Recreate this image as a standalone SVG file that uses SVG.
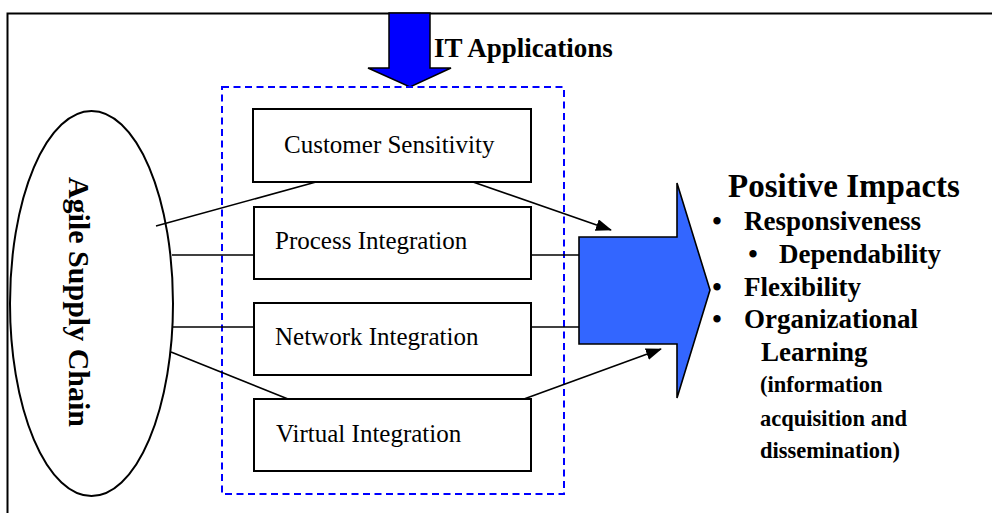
<svg xmlns="http://www.w3.org/2000/svg" width="992" height="513" viewBox="0 0 992 513">
<defs>
<marker id="ah" markerWidth="16" markerHeight="12" refX="15" refY="6" orient="auto" markerUnits="userSpaceOnUse">
<path d="M0,0 L16,6 L0,12 z" fill="#000"/>
</marker>
<style>
.box{fill:#fff;stroke:#000;stroke-width:2}
.lbl{font-family:"Liberation Serif","Times New Roman",serif;font-size:25px;fill:#000}
.b{font-family:"Liberation Serif","Times New Roman",serif;font-weight:bold;fill:#000}
.ln{stroke:#000;stroke-width:1.6;fill:none}
</style>
</defs>
<rect width="992" height="513" fill="#fff"/>
<rect id="frame" x="7.5" y="13.5" width="1000" height="520" fill="none" stroke="#000" stroke-width="2"/>

<g id="it-arrow">
<polygon points="389,13 430,13 430,68 451,68 410,87 368,68 389,68" fill="#0000FF" stroke="#000" stroke-width="1.5"/>
<text class="b" x="434" y="57" font-size="27">IT Applications</text>
</g>

<g id="it-box">
<rect x="222" y="87" width="342" height="407" fill="none" stroke="#0000FF" stroke-width="2" stroke-dasharray="7,4.5"/>
</g>

<g id="agile">
<ellipse cx="91.5" cy="303.5" rx="81.5" ry="192.5" fill="#fff" stroke="#000" stroke-width="2"/>
<text class="b" font-size="30" text-anchor="middle" transform="translate(69,302) rotate(90)">Agile Supply Chain</text>
</g>

<g id="connectors">
<line class="ln" x1="156" y1="226" x2="316" y2="182"/>
<line class="ln" x1="473" y1="182" x2="611" y2="230" marker-end="url(#ah)"/>
<line class="ln" x1="172" y1="255" x2="254" y2="255"/>
<line class="ln" x1="531" y1="255" x2="580" y2="255"/>
<line class="ln" x1="172" y1="327" x2="254" y2="327"/>
<line class="ln" x1="531" y1="327" x2="580" y2="327"/>
<line class="ln" x1="171" y1="352" x2="288" y2="399"/>
<line class="ln" x1="524" y1="399" x2="661" y2="349" marker-end="url(#ah)"/>
</g>

<g id="customer">
<rect class="box" x="253" y="109" width="278" height="73"/>
<text class="lbl" x="284" y="153">Customer Sensitivity</text>
</g>
<g id="process">
<rect class="box" x="254" y="207" width="277" height="72"/>
<text class="lbl" x="275" y="249">Process Integration</text>
</g>
<g id="network">
<rect class="box" x="254" y="303" width="277" height="72"/>
<text class="lbl" x="275" y="345">Network Integration</text>
</g>
<g id="virtual">
<rect class="box" x="254" y="399" width="277" height="72"/>
<text class="lbl" x="276" y="442">Virtual Integration</text>
</g>

<g id="impact-arrow">
<polygon points="579,237 677,237 677,183 710,290 677,398 677,344 579,344" fill="#3366FF" stroke="#000" stroke-width="1.6"/>
</g>

<g id="impacts">
<text class="b" x="728" y="197" font-size="33">Positive Impacts</text>
<text class="b" x="717" y="230" font-size="27" text-anchor="middle">•</text>
<text class="b" x="744" y="230" font-size="27">Responsiveness</text>
<text class="b" x="753" y="263" font-size="27" text-anchor="middle">•</text>
<text class="b" x="779" y="263" font-size="27">Dependability</text>
<text class="b" x="717" y="296" font-size="27" text-anchor="middle">•</text>
<text class="b" x="744" y="296" font-size="27">Flexibility</text>
<text class="b" x="717" y="328" font-size="27" text-anchor="middle">•</text>
<text class="b" x="744" y="328" font-size="27">Organizational</text>
<text class="b" x="761" y="361" font-size="27">Learning</text>
<text class="b" x="760" y="392" font-size="22.5">(information</text>
<text class="b" x="760" y="426" font-size="22.5">acquisition and</text>
<text class="b" x="760" y="458" font-size="22.5">dissemination)</text>
</g>
</svg>
